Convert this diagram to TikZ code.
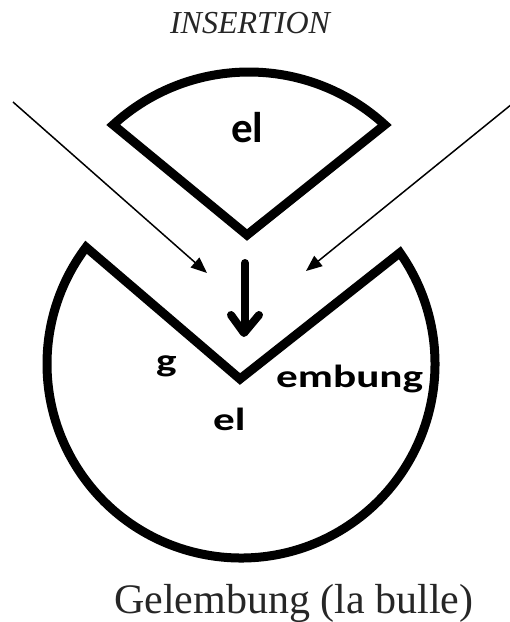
\documentclass[tikz,border=0pt]{standalone}
\usepackage{fontspec}
\setmainfont{Liberation Serif}
\newfontfamily\lblfont{Carlito}
\usetikzlibrary{calc,arrows.meta}
\tikzset{
  shapeline/.style={line width=9pt, line join=miter},
  thinarrow/.style={line width=1.5pt, -{Triangle[length=16pt,width=13pt]}},
  boldarrow/.style={line width=8pt, line cap=round, line join=round},
  lbl/.style={inner sep=0pt, anchor=base west, font=\lblfont\bfseries},
}
\begin{document}
\begin{tikzpicture}[x=1pt,y=-1pt]
\useasboundingbox (0,0) rectangle (510,622);
% title
\node[inner sep=0pt, anchor=base, text=black!85] (title) at (250,33)
  {\fontsize{32}{38}\selectfont\itshape INSERTION};
% top wedge
\coordinate (wapex) at (247,235);
\coordinate (wc) at (249,273);
\draw[shapeline] (wapex) -- ($(wc)+(-132.5:201)$) arc[start angle=-132.5, end angle=-47.5, radius=201] -- cycle;
\node[lbl] (elTop) at (231,142) {\fontsize{43}{50}\selectfont el};
% big bubble
\coordinate (bc) at (241,364);
\coordinate (bapex) at (240,379);
\draw[shapeline] (bapex) -- ($(bc)+(-35:194)$) arc[start angle=-35, end angle=217, radius=194] -- cycle;
% thin arrows
\coordinate (la) at (13,102);
\coordinate (lb) at (207,273);
\coordinate (ra) at (512,104);
\coordinate (rb) at (306,271);
\draw[thinarrow] (la) -- (lb);
\draw[thinarrow] (ra) -- (rb);
% bold arrow
\coordinate (ba) at (245,263);
\coordinate (bb) at (245,330);
\coordinate (bwl) at (231,315);
\coordinate (bwr) at (259,315);
\coordinate (btip) at (244,333);
\draw[boldarrow] (ba) -- (bb);
\draw[boldarrow] (bwl) -- (btip) -- (bwr);
% labels
\node[lbl] (g) at (156,371) {\fontsize{32}{38}\selectfont\scalebox{1.35}[1]{g}};
\node[lbl] (emb) at (276,387) {\fontsize{32}{38}\selectfont\scalebox{1.35}[1]{embung}};
\node[lbl] (elLow) at (213,430) {\fontsize{32}{38}\selectfont\scalebox{1.35}[1]{el}};
% caption
\node[inner sep=0pt, anchor=base west, text=black!85] (cap) at (114,613)
  {\fontsize{42}{50}\selectfont Gelembung (la bulle)};
\end{tikzpicture}
\end{document}
